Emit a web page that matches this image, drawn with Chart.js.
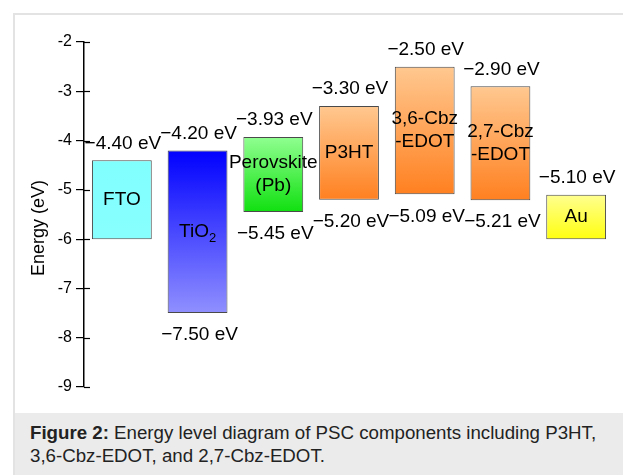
<!DOCTYPE html>
<html>
<head>
<meta charset="utf-8">
<script src="https://cdn.jsdelivr.net/npm/chart.js@4.4.0/dist/chart.umd.min.js"></script>
<style>
body { margin: 0; background: #fff; font-family: "Liberation Sans", Arial, sans-serif; }
#card { position: absolute; left: 13px; top: 13px; width: 620px; height: 470px;
  border-left: 2px solid #e3e3e3; border-top: 2px solid #e3e3e3; }
#plot { position: absolute; left: 0; top: 0; width: 608px; height: 398px; }
#caption { position: absolute; left: 0; top: 398px; width: 620px; height: 80px; background: #ebebeb; }
#caption p { margin: 0; padding: 8px 0 0 15px; font-size: 18.7px; line-height: 23px; color: #222; }
</style>
</head>
<body>
<div id="card">
  <div id="plot"><canvas id="energy-chart"></canvas></div>
  <div id="caption"><p><b>Figure 2:</b> Energy level diagram of PSC components including P3HT,<br>3,6-Cbz-EDOT, and 2,7-Cbz-EDOT.</p></div>
</div>
<script>
// Energy levels (eV)
const categories = ["FTO", "TiO2", "Perovskite (Pb)", "P3HT", "3,6-Cbz-EDOT", "2,7-Cbz-EDOT", "Au"];
const upperLevels = [-4.40, -4.20, -3.93, -3.30, -2.50, -2.90, -5.10];
const lowerLevels = [-6.00, -7.50, -5.45, -5.20, -5.09, -5.21, -6.00];
const showLower = [false, true, true, true, true, true, false];
const yTicks = [-2, -3, -4, -5, -6, -7, -8, -9];

// names written inside the boxes
const nameLines = [["FTO"], ["TiO|2"], ["Perovskite", "(Pb)"], ["P3HT"],
  ["3,6-Cbz", "-EDOT"], ["2,7-Cbz", "-EDOT"], ["Au"]];

const topColors = ['#80ffff', '#0000ff', '#90ff90', '#ffc890', '#ffc890', '#ffc890', '#ffff90'];
const bottomColors = ['#88ffff', '#9090ff', '#10e010', '#ff8020', '#ff8020', '#ff8020', '#ffff10'];

const FONT = '"Liberation Sans", Arial, sans-serif';

function fmt(v) {
  return (v < 0 ? '\u2212' : '') + Math.abs(v).toFixed(2) + ' eV';
}

//Labels, names, axis title and inner half of the ticks
const levelLabels = {
  id: 'levelLabels',
  afterDraw(chart) {
    const { ctx, scales: { x, y } } = chart;
    ctx.save();
    ctx.fillStyle = '#000';
    ctx.textAlign = 'center';
    ctx.textBaseline = 'middle';

    // right part of the tick marks
    ctx.strokeStyle = '#000';
    ctx.lineWidth = 1.2;
    yTicks.forEach(t => {
      const py = Math.round(y.getPixelForValue(t)) + 0.5;
      ctx.beginPath();
      ctx.moveTo(y.right, py);
      ctx.lineTo(y.right + 6, py);
      ctx.stroke();
    });

    ctx.font = '19px ' + FONT;
    categories.forEach((c, i) => {
      const cx = x.getPixelForValue(i);
      const yt = y.getPixelForValue(upperLevels[i]);
      const yb = y.getPixelForValue(lowerLevels[i]);
      ctx.fillText(fmt(upperLevels[i]), cx + 1, yt - 17);
      if (showLower[i]) ctx.fillText(fmt(lowerLevels[i]), cx + 2, yb + 22);

      const lines = nameLines[i];
      const mid = (yt + yb) / 2;
      lines.forEach((line, k) => {
        const ly = mid + (k - (lines.length - 1) / 2) * 23;
        if (line.includes('|')) {
          const [main, sub] = line.split('|');
          const w = ctx.measureText(main).width;
          ctx.font = '13px ' + FONT;
          const ws = ctx.measureText(sub).width;
          ctx.font = '19px ' + FONT;
          const left = cx - (w + ws) / 2;
          ctx.textAlign = 'left';
          ctx.fillText(main, left, ly);
          ctx.font = '13px ' + FONT;
          ctx.fillText(sub, left + w, ly + 7);
          ctx.font = '19px ' + FONT;
          ctx.textAlign = 'center';
        } else {
          ctx.fillText(line, cx, ly);
        }
      });
    });

    // axis title
    ctx.font = '18px ' + FONT;
    ctx.translate(24, 213);
    ctx.rotate(-Math.PI / 2);
    ctx.fillText('Energy (eV)', 0, 0);
    ctx.restore();
  }
};

const energyCanvas = document.getElementById('energy-chart');

let energyChart = new Chart(energyCanvas, {
  type: 'bar',
  data: {
    labels: categories,
    datasets: [{
      data: categories.map((c, i) => [lowerLevels[i], upperLevels[i]]),
      backgroundColor: ctx => {
        const chart = ctx.chart;
        const i = ctx.dataIndex;
        const y = chart.scales.y;
        if (!chart.chartArea || !y) return topColors[i];
        const g = chart.ctx.createLinearGradient(0, y.getPixelForValue(upperLevels[i]),
          0, y.getPixelForValue(lowerLevels[i]));
        g.addColorStop(0, topColors[i]);
        g.addColorStop(1, bottomColors[i]);
        return g;
      },
      borderColor: '#4a4a4a',
      borderWidth: 1,
      borderSkipped: false,
      barPercentage: 0.79,
      categoryPercentage: 1
    }]
  },
  options: {
    responsive: true,
    maintainAspectRatio: false,
    devicePixelRatio: 1,
    animation: false,
    layout: { padding: { top: 27, bottom: 26, right: 9, left: 0 } },
    scales: {
      x: { type: 'category', display: false, offset: true },
      y: {
        min: -9,
        max: -2,
        afterFit: scale => { scale.width = 69; },
        afterBuildTicks: scale => { scale.ticks = yTicks.map(v => ({ value: v })); },
        ticks: {
          color: '#000',
          padding: 4,
          font: { family: FONT, size: 16 },
          callback: v => String(v)
        },
        grid: { drawOnChartArea: false, tickLength: 8, color: '#000', lineWidth: 1.2 },
        border: { display: true, color: '#000', width: 1.5 }
      }
    },
    plugins: {
      legend: { display: false },
      tooltip: { enabled: false }
    }
  },
  plugins: [levelLabels]
});
</script>
</body>
</html>
